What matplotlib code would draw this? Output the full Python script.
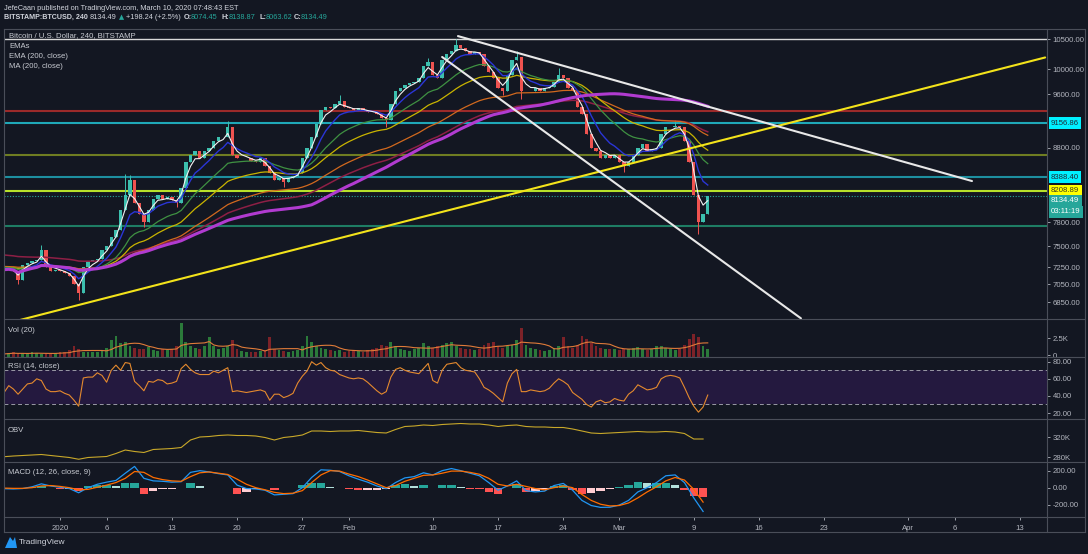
import numpy as np
import pandas as pd
import matplotlib
matplotlib.use("Agg")
import matplotlib.pyplot as plt
from matplotlib.lines import Line2D
from matplotlib.patches import Polygon
import matplotlib.transforms as mtransforms
from matplotlib.ticker import NullLocator

plt.rcParams['font.family'] = ['Liberation Sans', 'DejaVu Sans']

# ---------------- data ----------------
start_day = -6.0          # days since 2020-01-01 of first sample (Dec 26, 2019)
step_days = 0.5           # 12-hour samples
first_open = 7250
close = [7220, 7230, 7200, 7100, 7280, 7300, 7320, 7330, 7450, 7250, 7200, 7220,
         7200, 7180, 7150, 7050, 6950, 7250, 7320, 7330, 7350, 7450, 7500, 7620,
         7700, 7950, 8150, 8350, 8050, 7900, 7800, 7950, 8100, 8150, 8100, 8120,
         8080, 8050, 8250, 8600, 8700, 8750, 8650, 8750, 8800, 8900, 8950, 8950,
         9100, 8700, 8650, 8650, 8650, 8620, 8600, 8650, 8550, 8450, 8350, 8380,
         8330, 8380, 8400, 8450, 8650, 8800, 8950, 9150, 9350, 9400, 9380, 9450,
         9500, 9400, 9380, 9350, 9380, 9360, 9330, 9320, 9300, 9230, 9200, 9450,
         9650, 9700, 9750, 9780, 9800, 9850, 10050, 10120, 9900, 9850, 10150, 10250,
         10300, 10400, 10350, 10300, 10250, 10280, 10250, 10050, 9950, 9850, 9700, 9650,
         9900, 10150, 10200, 9650, 9650, 9650, 9700, 9650, 9700, 9720, 9800, 9900,
         9850, 9700, 9650, 9400, 9300, 9000, 8800, 8750, 8650, 8700, 8650, 8700,
         8600, 8550, 8600, 8700, 8800, 8850, 8750, 8780, 8800, 9000, 9100, 9100,
         9120, 9100, 8900, 8600, 8150, 7800, 7900, 8134.49]
# notable wick extremes (day, price)
wick_highs = [(-2.0, 7520), (7.0, 8440), (7.5, 8420), (18.0, 9190), (30.0, 9580),
              (39.5, 10180), (42.5, 10500), (49.0, 10300), (53.5, 10020), (66.0, 9200)]
wick_lows = [(-4.5, 7050), (2.0, 6870), (9.0, 7740), (12.5, 8000), (24.0, 8260),
             (35.0, 9100), (47.5, 9580), (49.5, 9520), (60.5, 8460), (68.5, 7650)]
volume_k = [0.4, 0.5, 0.6, 0.4, 0.5, 0.4, 0.6, 0.5, 0.4, 0.5, 0.4, 0.5, 0.6, 0.7, 0.9,
            1.5, 1.0, 0.7, 0.6, 0.6, 0.7,
            0.9, 1.2, 2.2, 2.8, 1.8, 2.0,
            1.5, 1.2, 1.0, 1.1, 1.3, 0.9, 0.8, 1.0, 0.9, 1.1, 1.4,
            4.5, 2.0, 1.4, 1.2, 1.0, 1.5,
            2.6, 1.4, 1.0, 1.2, 1.5, 2.2,
            1.0, 0.8, 0.7, 0.6, 0.7, 0.8, 0.9, 2.6,
            1.0, 0.9, 0.8, 0.7, 0.8, 0.9, 1.4,
            2.8, 2.0, 1.5, 1.2, 1.0, 0.9,
            0.8, 0.9, 0.7, 0.8, 0.9, 0.8, 0.7, 0.9, 1.0, 1.2, 1.6, 1.4, 2.0,
            1.5, 1.0, 0.9, 0.8, 1.0, 1.2, 1.8, 1.4, 1.2, 1.5,
            1.6, 1.8, 2.0, 1.4, 1.2, 1.0, 1.1, 0.9, 1.0, 1.6,
            1.8, 2.0, 1.5, 1.2, 1.4, 1.6, 2.2, 3.8, 1.6, 1.2,
            1.0, 0.9, 0.8, 0.9, 1.2, 1.5, 2.6, 1.4, 1.2, 1.6,
            2.8, 2.4, 1.8, 1.4, 1.2, 1.0, 1.1, 1.0, 0.9, 1.0,
            1.1, 1.2, 1.3, 1.0, 0.9, 1.0, 1.4, 1.5, 1.2, 1.0,
            0.9, 1.0, 1.6, 2.4, 3.0, 2.6, 1.4, 1.0]
rsi = [44, 52, 48, 42, 48, 54, 55, 60, 58, 48, 45, 45, 46, 43, 41, 35, 28, 61, 62, 62,
       67, 64, 56, 70, 76, 70, 79, 78, 57, 52, 46, 57, 56, 59, 58, 54, 55, 57, 72, 77,
       71, 67, 65, 65, 65, 69, 67, 70, 73, 45, 46, 45, 44, 45, 46, 47, 45, 35, 42, 42,
       38, 40, 43, 55, 63, 69, 80, 76, 79, 73, 70, 69, 65, 63, 61, 60, 61, 60, 56, 51,
       46, 42, 45, 62, 71, 73, 70, 68, 67, 66, 72, 78, 58, 55, 70, 77, 78, 79, 73, 70,
       69, 68, 60, 50, 47, 43, 38, 33, 55, 66, 71, 45, 45, 47, 46, 45, 46, 49, 55, 60,
       57, 53, 44, 40, 36, 30, 27, 33, 35, 32, 33, 37, 35, 34, 42, 46, 53, 50, 47, 48,
       50, 60, 63, 64, 63, 61, 50, 38, 28, 21, 27, 41]
ind_days = list(range(-6, 70))     # daily samples for OBV / MACD
macd = [-12, -15, -10, 10, 45, 20, 5, -10, -60, 0, 40, 65, 85, 170, 250, 110, 80, 75, 65, 70,
        180, 200, 185, 165, 150, 30, -10, -15, -30, -85, -78, -70, 0, 120, 210, 205, 190, 140,
        100, 65, 20, -12, 60, 115, 130, 175, 150, 200, 225, 200, 170, 140, 60, -30, 20, 80,
        -35, -50, -40, 25, 50, -30, -150, -210, -232, -230, -205, -150, -50, 0, 60, 140, 150,
        60, -120, -280]
signal = [-5, -8, -8, 0, 20, 25, 15, 0, -25, -20, 5, 30, 60, 110, 190, 180, 120, 95, 80, 75,
          130, 175, 185, 170, 155, 100, 40, 0, -25, -55, -70, -65, -35, 60, 150, 200, 195, 160,
          130, 90, 45, 0, 25, 75, 110, 145, 150, 170, 195, 195, 180, 158, 110, 40, 20, 40,
          15, -10, -25, 0, 20, 0, -80, -150, -195, -215, -210, -180, -120, -50, 10, 80, 120,
          90, -20, -170]
obv_k = [280.6, 282, 283, 284, 285, 283, 281, 279, 275.5, 279, 280, 281, 287, 294, 291, 289,
         295, 296, 297, 299, 314, 320, 321, 323, 324, 323, 323, 322, 319, 314, 319, 321, 324,
         332, 332, 331, 332, 332, 333, 331, 329, 328, 335, 341, 342, 344, 343, 345, 346, 347,
         346, 346, 344, 341, 343, 344, 341, 340, 340, 339, 339, 336, 332, 328, 327, 328, 329,
         330, 331, 330, 330, 331, 330, 327, 316, 316]

# horizontal levels drawn on the chart
h_levels = [10500, 9345, 9156.86, 8700, 8388.40, 8208.89, 7750]
h_colors = ['#d8d8d8', '#9c2a2a', '#1fa8b8', '#6f7d22', '#1d8fa0', '#b8e22a', '#1e7d64']
# trend lines: (day, price) endpoints
yellow_line = [(-4.3, 6654), (105.7, 10190)]
white_upper = [(42.7, 10550), (97.85, 8338)]
white_lower = [(41.0, 10198), (79.5, 6672)]

price_ticks = [10500, 10000, 9600, 8800, 7800, 7500, 7250, 7050, 6850]
time_tick_days = [0, 5, 12, 19, 26, 31, 40, 47, 54, 60, 68, 75, 82, 91, 96, 103]
time_tick_labels = ['2020', '6', '13', '20', '27', 'Feb', '10', '17', '24', 'Mar', '9',
                    '16', '23', 'Apr', '6', '13']
# EMA set: colour, span (in 12h samples), starting value
ema_specs = [('#f2f2f2', 3, 7230, 0.8), ('#2a35d6', 7, 7240, 1.0), ('#3f9142', 17, 7250, 0.9),
             ('#c9b400', 28, 7250, 0.9), ('#d2691e', 50, 7260, 0.9), ('#8e1f45', 67, 7400, 1.1)]
sma_window = 67

# ---------------- styling ----------------
W, H = 1088, 554
BG = '#131722'
GRID = '#4a4e59'
TXT = '#b2b5be'
FS = 5.6
HFS = 5.3
UPC, DNC = '#3cbfae', '#ef5350'

fig = plt.figure(figsize=(W / 100, H / 100), dpi=100, facecolor=BG)


def rect(x0, y0, x1, y1):
    return [x0 / W, 1 - y1 / H, (x1 - x0) / W, (y1 - y0) / H]


def ftext(x, y, s, **kw):
    kw.setdefault('fontsize', FS)
    kw.setdefault('color', '#d1d4dc')
    kw.setdefault('va', 'center')
    return fig.text(x / W, 1 - y / H, s, **kw)


X0, X1 = 4, 1047
ax_main = fig.add_axes(rect(X0, 29, X1, 319))
ax_vol = fig.add_axes(rect(X0, 319, X1, 357), sharex=ax_main)
ax_rsi = fig.add_axes(rect(X0, 357, X1, 419), sharex=ax_main)
ax_obv = fig.add_axes(rect(X0, 419, X1, 462), sharex=ax_main)
ax_macd = fig.add_axes(rect(X0, 462, X1, 517), sharex=ax_main)
axes = [ax_main, ax_vol, ax_rsi, ax_obv, ax_macd]
for a in axes:
    a.set_facecolor(BG)
    for s in a.spines.values():
        s.set_visible(False)
    a.yaxis.tick_right()
    a.tick_params(axis='y', colors=TXT, labelsize=FS, length=2.5, width=0.6, pad=1.5,
                  labelcolor=TXT)
    a.tick_params(axis='x', bottom=False, labelbottom=False)
ax_main.set_xlim(-6.01, 105.9)

n = len(close)
days = start_day + step_days * np.arange(n)
cl = np.array(close, dtype=float)
op = np.concatenate([[first_open], cl[:-1]])
up = cl >= op
hi = np.maximum(op, cl)
lo = np.minimum(op, cl)
for d, p in wick_highs:
    i = int(round((d - start_day) / step_days))
    hi[i] = max(hi[i], p)
for d, p in wick_lows:
    i = int(round((d - start_day) / step_days))
    lo[i] = min(lo[i], p)

# ---- main price panel ----
ax_main.set_yscale('log')
ax_main.set_ylim(6665, 10672)
ax_main.yaxis.set_minor_locator(NullLocator())
ax_main.set_yticks(price_ticks)
ax_main.set_yticklabels([f'{t:.2f}' for t in price_ticks])

for lvl, c in zip(h_levels, h_colors):
    ax_main.axhline(lvl, color=c, lw=1.5 if lvl != 10500 else 1.0, zorder=1.5)
ax_main.axhline(close[-1], color='#26a69a', lw=0.8, ls=(0, (1, 1.5)), zorder=1.6)

body_w = 0.36
ax_main.vlines(days, lo, hi, colors=np.where(up, UPC, DNC), lw=0.7, zorder=2)
ax_main.bar(days[up], cl[up] - op[up], bottom=op[up], width=body_w, color=UPC,
            edgecolor='none', zorder=2)
ax_main.bar(days[~up], op[~up] - cl[~up], bottom=cl[~up], width=body_w, color=DNC,
            edgecolor='none', zorder=2)


def ema(values, span, seed):
    alpha = 2.0 / (span + 1)
    out, e = [], seed
    for v in values:
        e += alpha * (v - e)
        out.append(e)
    return np.array(out)


for col, span, seed, lw in ema_specs[::-1]:
    ax_main.plot(days, ema(cl, span, seed), color=col, lw=lw, zorder=3)
sma = pd.Series(cl).rolling(sma_window, min_periods=1).mean()
ax_main.plot(days, sma, color='#b13bd0', lw=2.2, zorder=3.1)

for (d0, p0), (d1, p1), col in [(yellow_line[0], yellow_line[1], '#f3e31b'),
                                 (white_upper[0], white_upper[1], '#e8e8e8'),
                                 (white_lower[0], white_lower[1], '#e8e8e8')]:
    ax_main.plot([d0, d1], [p0, p1], color=col, lw=1.5, zorder=4, solid_capstyle='round')

# price-axis labels with coloured boxes
lab_x = 1051 / W
tr = mtransforms.blended_transform_factory(fig.transFigure, ax_main.transData)
box = dict(boxstyle='square,pad=0.3', ec='none')
for val, bg, fg in [(9156.86, '#00f0ff', '#1e2a38'), (8388.40, '#00f0ff', '#1e2a38'),
                    (8208.89, '#ffff00', '#3a3a20')]:
    ax_main.text(lab_x, val, f'{val:.2f}', transform=tr, fontsize=FS, color=fg, va='center',
                 ha='left', bbox=dict(box, fc=bg), zorder=10, clip_on=False)
tr_cur = mtransforms.offset_copy(tr, fig=fig, y=-4.6 * 72 / 100, units='points')
ax_main.text(lab_x, close[-1], f'{close[-1]:.2f}', transform=tr_cur, fontsize=FS,
             color='white', va='center', ha='left', bbox=dict(box, fc='#26a69a'),
             zorder=10, clip_on=False)
tr_cd = mtransforms.offset_copy(tr, fig=fig, y=-15.6 * 72 / 100, units='points')
ax_main.text(lab_x, close[-1], '03:11:19', transform=tr_cd, fontsize=FS, color='white',
             va='center', ha='left', bbox=dict(box, fc='#26a69a'), zorder=10, clip_on=False)

# ---- volume ----
vol = np.array(volume_k)
ax_vol.set_ylim(0, 5.0)
ax_vol.bar(days[up], vol[up], width=0.3, color='#2b7a3a', edgecolor='none')
ax_vol.bar(days[~up], vol[~up], width=0.3, color='#7d2228', edgecolor='none')
ax_vol.plot(days, pd.Series(vol).rolling(7, min_periods=1).mean(), color='#e07b39', lw=0.8)
ax_vol.set_yticks([0.25, 2.5])
ax_vol.set_yticklabels(['0', '2.5K'])

# ---- RSI ----
ax_rsi.set_ylim(13, 85.5)
ax_rsi.axhspan(30, 70, color='#24193f', lw=0, zorder=0)
for lv in (70, 30):
    ax_rsi.axhline(lv, color='#9a9aa6', lw=0.7, ls=(0, (4, 3)), zorder=1)
ax_rsi.plot(days, rsi, color='#e58a2e', lw=0.8, zorder=2)
ax_rsi.set_yticks([80, 60, 40, 20])
ax_rsi.set_yticklabels(['80.00', '60.00', '40.00', '20.00'])

# ---- OBV ----
idays = np.array(ind_days, dtype=float)
ax_obv.set_ylim(270, 356)
ax_obv.plot(idays, obv_k, color='#c8a82a', lw=0.8)
ax_obv.set_yticks([320, 280])
ax_obv.set_yticklabels(['320K', '280K'])

# ---- MACD ----
m = np.array(macd, float)
s = np.array(signal, float)
hist = m - s
prev = np.concatenate([[0], hist[:-1]])
hcol = np.where(hist >= 0, np.where(hist >= prev, '#26a69a', '#b2dfdb'),
                np.where(hist < prev, '#ff5252', '#ffcdd2'))
ax_macd.set_ylim(-345, 302)
ax_macd.bar(idays, hist, width=0.9, color=hcol, edgecolor='none', zorder=1)
ax_macd.plot(idays, m, color='#2196f3', lw=0.9, zorder=2)
ax_macd.plot(idays, s, color='#ff6d00', lw=0.9, zorder=3)
ax_macd.set_yticks([200, 0, -200])
ax_macd.set_yticklabels(['200.00', '0.00', '-200.00'])
ax_macd.set_xticks(time_tick_days)
ax_macd.set_xticklabels(time_tick_labels)
ax_macd.tick_params(axis='x', bottom=True, labelbottom=True, colors=TXT, labelsize=FS,
                    length=2.5, width=0.6, pad=3, labelcolor=TXT)

# ---- frames / separators ----
def fline(x0, y0, x1, y1, c=GRID, lw=0.8):
    fig.add_artist(Line2D([x0 / W, x1 / W], [1 - y0 / H, 1 - y1 / H], color=c, lw=lw))


for yy in (319, 357, 419, 462, 517):
    fline(X0, yy, 1085, yy)
fline(X0, 29, 1085, 29)
fline(X0, 532, 1085, 532)
fline(X0, 29, X0, 532)
fline(1085, 29, 1085, 532)
fline(X1, 29, X1, 532)

# ---- texts ----
ftext(4, 8, 'JefeCaan published on TradingView.com, March 10, 2020 07:48:43 EST', fontsize=HFS)
ftext(4, 17.5, 'BITSTAMP:BTCUSD, 240', fontweight='bold', fontsize=5.1)
ftext(90, 17.5, '8134.49', fontsize=HFS)
ftext(119, 17.5, '▲', color='#26a69a', fontsize=HFS - 0.5, family='DejaVu Sans')
ftext(126, 17.5, '+198.24 (+2.5%)', fontsize=HFS)
for x, lab, val in [(184, 'O:', '8074.45'), (222, 'H:', '8138.87'), (259, 'L:', '8063.62'),
                    (294, 'C:', '8134.49')]:
    ftext(x, 17.5, lab, fontweight='bold', fontsize=HFS)
    ftext(x + 7, 17.5, val, color='#26a69a', fontsize=HFS)

ftext(9, 35.5, 'Bitcoin / U.S. Dollar, 240, BITSTAMP', color='#c8cbd2')
ftext(9, 46, 'EMAs', color='#c8cbd2')
ftext(9, 56.5, 'EMA (200, close)', color='#c8cbd2')
ftext(9, 66.5, 'MA (200, close)', color='#c8cbd2')
ftext(8, 330, 'Vol (20)', color='#c8cbd2')
ftext(8, 367, 'RSI (14, close)', color='#c8cbd2')
ftext(8, 430, 'OBV', color='#c8cbd2')
ftext(8, 473, 'MACD (12, 26, close, 9)', color='#c8cbd2')

# TradingView logo
logo = [(5, 548), (10, 537), (13, 541), (15, 537), (17, 548)]
fig.add_artist(Polygon([(x / W, 1 - y / H) for x, y in logo], closed=True, fc='#2196f3',
                       ec='none', transform=fig.transFigure))
ftext(19, 543, 'TradingView', fontsize=FS + 0.4, color='#d1d4dc')

fig.savefig('out.png', dpi=100, facecolor=BG)
